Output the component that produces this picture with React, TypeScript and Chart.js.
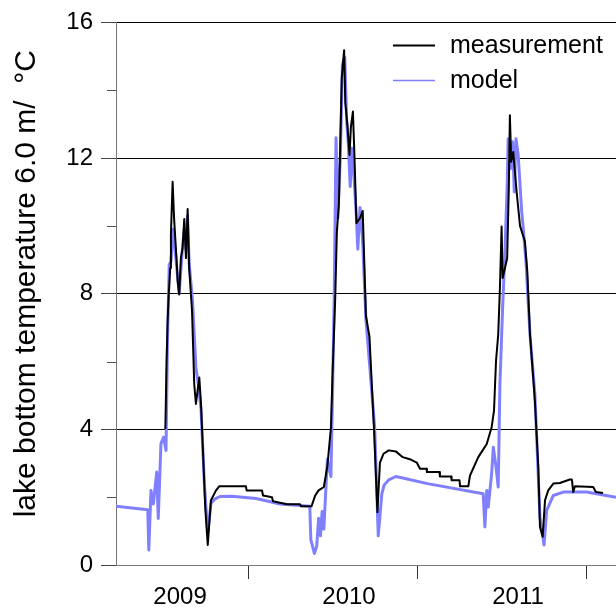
import React, { useEffect, useRef } from 'react';
import { Chart, registerables } from 'chart.js';

Chart.register(...registerables);

// ---- data (decimal years, °C) ----
const measurementX = [
  2008.913, 2008.920, 2008.926, 2008.932, 2008.942, 2008.946, 2008.956, 2008.965, 2008.980, 2008.986,
  2008.995, 2009.005, 2009.015, 2009.025, 2009.035, 2009.045, 2009.054, 2009.071, 2009.084, 2009.094,
  2009.104, 2009.114, 2009.124, 2009.138, 2009.149, 2009.164, 2009.183, 2009.213, 2009.232, 2009.390,
  2009.394, 2009.485, 2009.491, 2009.544, 2009.550, 2009.633, 2009.710, 2009.716, 2009.778, 2009.799,
  2009.820, 2009.851, 2009.872, 2009.893, 2009.903, 2009.919, 2009.928, 2009.940, 2009.949, 2009.957,
  2009.971, 2009.978, 2009.990, 2010.003, 2010.011, 2010.023, 2010.032, 2010.044, 2010.065, 2010.081,
  2010.100, 2010.121, 2010.148, 2010.168, 2010.183, 2010.204, 2010.235, 2010.277, 2010.318, 2010.360,
  2010.401, 2010.420, 2010.459, 2010.461, 2010.535, 2010.538, 2010.604, 2010.607, 2010.654, 2010.657,
  2010.706, 2010.716, 2010.765, 2010.815, 2010.844, 2010.858, 2010.870, 2010.883, 2010.893, 2010.903,
  2010.909, 2010.923, 2010.936, 2010.946, 2010.952, 2010.960, 2010.972, 2010.992, 2011.012, 2011.041,
  2011.047, 2011.055, 2011.071, 2011.100, 2011.120, 2011.130, 2011.146, 2011.160, 2011.179, 2011.209,
  2011.248, 2011.307, 2011.319, 2011.327, 2011.337, 2011.445, 2011.461, 2011.503,
];
const measurementY = [
  4.01, 5.93, 7.10, 7.88, 8.76, 9.74, 11.30, 10.20, 8.95, 8.37,
  7.98, 9.05, 9.35, 10.20, 9.05, 10.50, 8.76, 7.49, 5.33, 4.75,
  5.14, 5.53, 4.75, 3.08, 1.71, 0.59, 1.91, 2.20, 2.32, 2.32,
  2.20, 2.20, 2.05, 2.00, 1.88, 1.79, 1.79, 1.73, 1.73, 2.04,
  2.20, 2.30, 2.92, 4.05, 5.70, 7.97, 9.82, 10.64, 12.60, 14.36,
  15.18, 13.63, 13.00, 12.09, 12.91, 13.37, 12.09, 10.08, 10.23, 10.44,
  7.35, 6.73, 4.00, 1.56, 3.02, 3.28, 3.38, 3.35, 3.18, 3.12,
  3.02, 2.84, 2.84, 2.74, 2.74, 2.61, 2.61, 2.50, 2.50, 2.32,
  2.32, 2.64, 3.18, 3.57, 4.06, 4.55, 6.02, 6.80, 8.17, 9.98,
  8.46, 8.76, 9.05, 11.20, 13.26, 11.89, 12.18, 11.00, 10.00, 9.54,
  9.15, 8.66, 6.80, 4.84, 2.89, 1.12, 0.83, 1.91, 2.20, 2.40,
  2.42, 2.52, 2.52, 2.15, 2.32, 2.30, 2.15, 2.12,
];

const modelX = [
  2008.621, 2008.809, 2008.815, 2008.828, 2008.842, 2008.862, 2008.871, 2008.887, 2008.903, 2008.917,
  2008.926, 2008.936, 2008.946, 2008.960, 2008.980, 2008.995, 2009.012, 2009.025, 2009.035, 2009.044,
  2009.054, 2009.074, 2009.094, 2009.109, 2009.124, 2009.144, 2009.164, 2009.183, 2009.207, 2009.236,
  2009.307, 2009.450, 2009.591, 2009.768, 2009.774, 2009.795, 2009.809, 2009.820, 2009.831, 2009.841,
  2009.851, 2009.872, 2009.893, 2009.903, 2009.913, 2009.923, 2009.934, 2009.949, 2009.961, 2009.975,
  2009.986, 2009.996, 2010.007, 2010.017, 2010.028, 2010.044, 2010.052, 2010.065, 2010.080, 2010.100,
  2010.152, 2010.173, 2010.194, 2010.207, 2010.235, 2010.277, 2010.331, 2010.464, 2010.794, 2010.804,
  2010.815, 2010.824, 2010.844, 2010.854, 2010.870, 2010.883, 2010.893, 2010.909, 2010.923, 2010.936,
  2010.942, 2010.956, 2010.968, 2010.978, 2010.988, 2011.001, 2011.022, 2011.031, 2011.047, 2011.071,
  2011.100, 2011.130, 2011.154, 2011.170, 2011.209, 2011.268, 2011.406, 2011.580,
];
const modelY = [
  1.73, 1.63, 0.44, 2.20, 1.80, 2.74, 1.37, 3.58, 3.77, 3.38,
  6.70, 8.86, 8.95, 9.90, 8.80, 8.00, 9.20, 9.90, 9.30, 10.30,
  8.90, 7.78, 5.82, 5.30, 4.60, 2.40, 0.94, 1.82, 1.95, 2.02,
  2.03, 1.96, 1.80, 1.73, 0.75, 0.34, 0.56, 1.38, 0.86, 1.58,
  1.06, 3.12, 2.61, 5.19, 8.17, 12.60, 10.23, 12.09, 14.76, 14.97,
  13.12, 12.40, 11.16, 12.29, 11.57, 10.23, 9.31, 10.54, 9.62, 7.25,
  4.05, 0.86, 2.09, 2.35, 2.51, 2.61, 2.55, 2.40, 2.10, 1.12,
  2.20, 1.71, 2.69, 3.47, 2.89, 2.30, 5.33, 7.58, 9.25, 11.20,
  12.57, 11.69, 12.48, 11.00, 12.57, 12.09, 10.42, 9.93, 8.95, 6.80,
  5.04, 1.42, 0.59, 1.61, 2.05, 2.15, 2.15, 2.00,
];

const seriesNames = ['measurement', 'model'];
const seriesColors = ['#000000', 'rgb(128,128,255)'];

const yearLabels = ['2009', '2010', '2011'];
const yearLabelValues = [2009, 2010, 2011];
const yearTickValues = [2009.403, 2010.403, 2011.403];
const yMajorTicks = [0, 4, 8, 12, 16];
const yMinorTicks = [2, 6, 10, 14];
const yTitle = 'lake bottom temperature 6.0 m/  °C';

const X_MIN = 2008.621;
const X_MAX = 2011.58;
const FONT = '"Liberation Sans", Arial, Helvetica, sans-serif';

const minorTickPlugin = {
  id: 'minorTicks',
  afterDraw(chart: any) {
    const { ctx, chartArea, scales } = chart;
    const y = scales.y;
    ctx.save();
    ctx.strokeStyle = '#555';
    ctx.lineWidth = 1;
    yMinorTicks.forEach((v) => {
      const py = Math.round(y.getPixelForValue(v)) + 0.5;
      ctx.beginPath();
      ctx.moveTo(chartArea.left - 9, py);
      ctx.lineTo(chartArea.left, py);
      ctx.stroke();
    });
    ctx.restore();
  },
};

const yTitlePlugin = {
  id: 'yTitle',
  afterDraw(chart: any) {
    const { ctx, chartArea } = chart;
    ctx.save();
    ctx.font = `30px ${FONT}`;
    ctx.fillStyle = '#000';
    ctx.textAlign = 'center';
    ctx.textBaseline = 'middle';
    ctx.translate(27, (chartArea.top + chartArea.bottom) / 2 - 10);
    ctx.rotate(-Math.PI / 2);
    ctx.fillText(yTitle, 0, 0);
    ctx.restore();
  },
};

const cornerLegendPlugin = {
  id: 'cornerLegend',
  afterDraw(chart: any) {
    const { ctx, chartArea } = chart;
    ctx.save();
    ctx.font = `25px ${FONT}`;
    ctx.textBaseline = 'middle';
    ctx.textAlign = 'left';
    chart.data.datasets.forEach((ds: any, i: number) => {
      const y = chartArea.top + 23 + i * 35;
      ctx.strokeStyle = ds.borderColor;
      ctx.lineWidth = i === 0 ? 2 : 1.5;
      ctx.beginPath();
      ctx.moveTo(chartArea.right - 223, y);
      ctx.lineTo(chartArea.right - 181, y);
      ctx.stroke();
      ctx.fillStyle = '#000';
      ctx.fillText(ds.label, chartArea.right - 166, y + 1);
    });
    ctx.restore();
  },
};

export default function App() {
  const canvasRef = useRef<HTMLCanvasElement | null>(null);

  useEffect(() => {
    document.body.style.margin = '0';
    const canvas = canvasRef.current;
    if (!canvas) return;

    const measurement = measurementX.map((x, i) => ({ x, y: measurementY[i] }));
    const model = modelX.map((x, i) => ({ x, y: modelY[i] }));

    const chart = new Chart(canvas, {
      type: 'line',
      data: {
        datasets: [
          {
            label: seriesNames[0],
            data: measurement,
            borderColor: seriesColors[0],
            borderWidth: 2,
            pointRadius: 0,
            tension: 0,
            borderJoinStyle: 'round',
          },
          {
            label: seriesNames[1],
            data: model,
            borderColor: seriesColors[1],
            borderWidth: 3,
            pointRadius: 0,
            tension: 0,
            borderJoinStyle: 'round',
          },
        ],
      },
      options: {
        animation: false,
        responsive: true,
        maintainAspectRatio: false,
        layout: { padding: { top: 20, right: 0, left: 0, bottom: 0 } },
        plugins: {
          legend: { display: false },
          tooltip: { enabled: false },
        },
        scales: {
          x: {
            type: 'linear',
            min: X_MIN,
            max: X_MAX,
            afterBuildTicks: (scale: any) => {
              const vals = [...yearLabelValues, ...yearTickValues].sort((a, b) => a - b);
              scale.ticks = vals.map((v) => ({ value: v }));
            },
            afterFit: (scale: any) => {
              scale.height = 51;
            },
            ticks: {
              autoSkip: false,
              maxRotation: 0,
              minRotation: 0,
              padding: 4,
              color: '#000',
              font: { family: FONT, size: 24 },
              callback: (value: any) => {
                const idx = yearLabelValues.indexOf(Number(value));
                return idx >= 0 ? yearLabels[idx] : '';
              },
            },
            grid: {
              drawOnChartArea: false,
              drawTicks: true,
              tickLength: 14,
              tickColor: (ctx: any) =>
                ctx.tick && yearTickValues.includes(ctx.tick.value) ? '#333' : 'rgba(0,0,0,0)',
            },
            border: { color: '#777', width: 1 },
          },
          y: {
            type: 'linear',
            min: 0,
            max: 16,
            afterBuildTicks: (scale: any) => {
              scale.ticks = yMajorTicks.map((v) => ({ value: v }));
            },
            afterFit: (scale: any) => {
              scale.width = 116;
            },
            ticks: {
              padding: 8,
              color: '#000',
              font: { family: FONT, size: 24 },
              callback: (value: any) => String(value),
            },
            grid: {
              color: (ctx: any) => (ctx.tick && ctx.tick.value === 0 ? 'rgba(0,0,0,0)' : '#000'),
              lineWidth: 1,
              tickLength: 15,
              tickColor: '#444',
            },
            border: { color: '#777', width: 1 },
          },
        },
      },
      plugins: [minorTickPlugin, yTitlePlugin, cornerLegendPlugin],
    });

    return () => {
      chart.destroy();
    };
  }, []);

  return (
    <div style={{ width: 616, height: 616, position: 'relative' }}>
      <canvas ref={canvasRef} />
    </div>
  );
}
